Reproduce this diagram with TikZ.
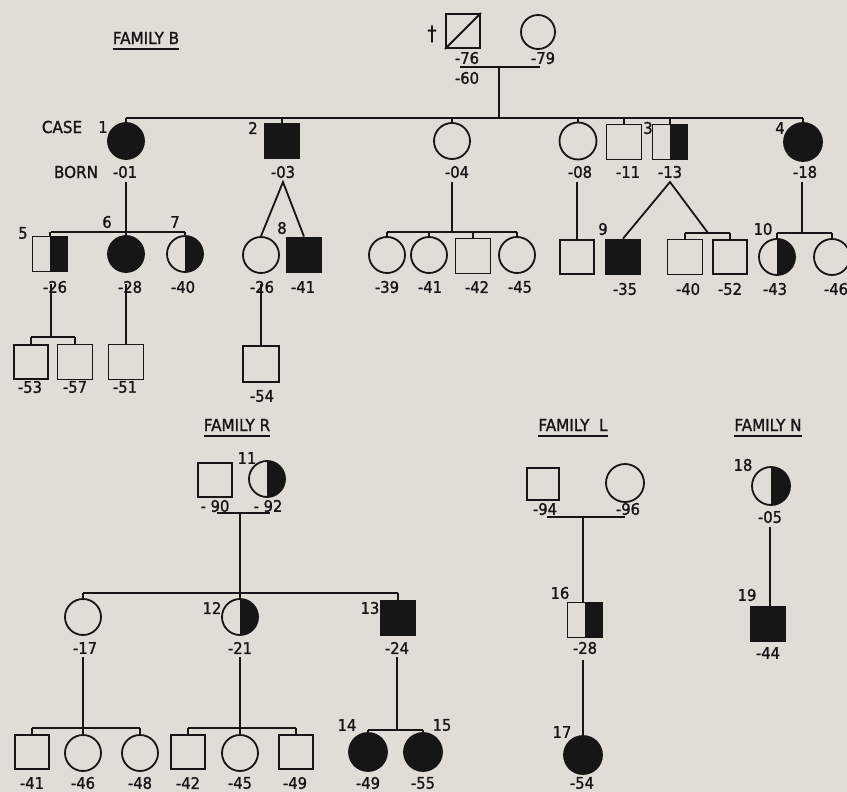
\documentclass[tikz,border=0pt]{standalone}
\usepackage{fontspec}
\setmainfont{DejaVu Sans}[FakeBold=1.3,FakeStretch=0.92]
\definecolor{ink}{RGB}{22,22,22}
\definecolor{paper}{RGB}{223,221,213}
\tikzset{
 sym/.style={draw=ink, line width=1.8pt, inner sep=0pt},
 sq/.style={sym, rectangle, minimum size=34pt},
 ci/.style={sym, circle, minimum size=36pt},
 fullf/.style={fill=ink},
 halfr/.style={path picture={\fill[ink] (path picture bounding box.north) rectangle (path picture bounding box.south east);}},
 lbl/.style={text=ink, inner sep=0pt, font=\fontsize{16}{18}\selectfont},
 ttl/.style={text=ink, inner sep=0pt, font=\fontsize{16.5}{18}\selectfont},
 ln/.style={draw=ink, line width=1.8pt},
 ul/.style={draw=ink, line width=1.5pt},
}
\begin{document}
\begin{tikzpicture}[x=1pt,y=-1pt]
\useasboundingbox (0,0) rectangle (847,792);
\fill[paper] (0,0) rectangle (847,792);

% ---------------- FAMILY B ----------------
\node[ttl] (tB) at (146,38) {FAMILY B};
\draw[ul] ([yshift=-5pt]tB.base west) -- ([yshift=-5pt]tB.base east);

% generation I
\node[sq] (I1) at (463,31) {};
\draw[ln] (I1.south west) -- (I1.north east);
\node[lbl, font=\fontsize{20}{22}\selectfont] (dag) at (432,34) {†};
\node[ci, minimum size=34pt] (I2) at (538,32) {};
\node[lbl] (l76) at (467,58) {-76};
\node[lbl] (l79) at (543,58) {-79};
\node[lbl] (l60) at (467,78) {-60};
\coordinate (mIa) at (460,67);
\coordinate (mIb) at (540,67);
\coordinate (mI) at (499,67);
\coordinate (sI) at (499,118);
\draw[ln] (mIa) -- (mIb);
\draw[ln] (mI) -- (sI);

% generation II
\coordinate (sIIa) at (126,118);
\coordinate (sIIb) at (803,118);
\draw[ln] (sIIa) -- (sIIb);
\node[ci, fullf] (II1) at (126,141) {};
\node[sq, fullf, minimum size=35pt] (II2) at (282,141) {};
\node[ci] (II3) at (452,141) {};
\node[ci, minimum size=37pt] (II4) at (578,141) {};
\node[sq, minimum size=35pt] (II5) at (624,142) {};
\node[sq, halfr, minimum size=35pt] (II6) at (670,142) {};
\node[ci, fullf, minimum size=38pt] (II7) at (803,142) {};
\foreach \n in {II1,II2,II3,II4,II5,II6,II7} \draw[ln] (\n.north |- sIIa) -- (\n.north);

\node[ttl] (case) at (62,127) {CASE};
\node[lbl] (n1) at (103,127) {1};
\node[lbl] (n2) at (253,128) {2};
\node[lbl] (n3) at (648,128) {3};
\node[lbl] (n4) at (780,128) {4};
\node[ttl] (born) at (76,172) {BORN};
\node[lbl] (l01) at (125,172) {-01};
\node[lbl] (l03) at (283,172) {-03};
\node[lbl] (l04) at (457,172) {-04};
\node[lbl] (l08) at (580,172) {-08};
\node[lbl] (l11) at (628,172) {-11};
\node[lbl] (l13) at (670,172) {-13};
\node[lbl] (l18) at (805,172) {-18};

% generation III
\node[sq, halfr, minimum size=35pt] (III1) at (50,254) {};
\node[ci, fullf] (III2) at (126,254) {};
\node[ci, halfr] (III3) at (185,254) {};
\node[ci] (III4) at (261,255) {};
\node[sq, fullf, minimum size=35pt] (III5) at (304,255) {};
\node[ci] (III6) at (387,255) {};
\node[ci] (III7) at (429,255) {};
\node[sq, minimum size=35pt] (III8) at (473,256) {};
\node[ci] (III9) at (517,255) {};
\node[sq] (III10) at (577,257) {};
\node[sq, fullf, minimum size=35pt] (III11) at (623,257) {};
\node[sq, minimum size=35pt] (III12) at (685,257) {};
\node[sq] (III13) at (730,257) {};
\node[ci, halfr] (III14) at (777,257) {};
\node[ci] (III15) at (832,257) {};

\node[lbl] (n5) at (23,233) {5};
\node[lbl] (n6) at (107,222) {6};
\node[lbl] (n7) at (175,222) {7};
\node[lbl] (n8) at (282,228) {8};
\node[lbl] (n9) at (603,229) {9};
\node[lbl] (n10) at (763,229) {10};

\node[lbl] (l26a) at (55,287) {-26};
\node[lbl] (l28) at (130,287) {-28};
\node[lbl] (l40a) at (183,287) {-40};
\node[lbl] (l26b) at (262,287) {-26};
\node[lbl] (l41a) at (303,287) {-41};
\node[lbl] (l39) at (387,287) {-39};
\node[lbl] (l41b) at (430,287) {-41};
\node[lbl] (l42a) at (477,287) {-42};
\node[lbl] (l45a) at (520,287) {-45};
\node[lbl] (l35) at (625,289) {-35};
\node[lbl] (l40b) at (688,289) {-40};
\node[lbl] (l52) at (730,289) {-52};
\node[lbl] (l43) at (775,289) {-43};
\node[lbl] (l46a) at (836,289) {-46};

% descents from generation II
\coordinate (dII1) at (126,182);
\draw[ln] (dII1) -- (III2.north);
\coordinate (sIIIa) at (51,232);
\coordinate (sIIIb) at (185,232);
\draw[ln] (sIIIa) -- (sIIIb);
\draw[ln] (III1.north |- sIIIa) -- (III1.north);
\draw[ln] (III3.north |- sIIIa) -- (III3.north);

\coordinate (tw1) at (283,182);
\draw[ln] (III4.north) -- (tw1) -- (III5.north);

\coordinate (dII3) at (452,182);
\coordinate (sII3) at (452,232);
\draw[ln] (dII3) -- (sII3);
\coordinate (sIIIc) at (387,232);
\coordinate (sIIId) at (517,232);
\draw[ln] (sIIIc) -- (sIIId);
\foreach \n in {III6,III7,III8,III9} \draw[ln] (\n.north |- sIIIc) -- (\n.north);

\coordinate (dII4) at (577,182);
\draw[ln] (dII4) -- (III10.north);

\coordinate (tw2) at (670,182);
\coordinate (tw2b) at (708,233);
\draw[ln] (III11.north) -- (tw2) -- (tw2b);
\coordinate (sIIIe) at (685,233);
\coordinate (sIIIf) at (730,233);
\draw[ln] (sIIIe) -- (sIIIf);
\draw[ln] (III12.north |- sIIIe) -- (III12.north);
\draw[ln] (III13.north |- sIIIe) -- (III13.north);

\coordinate (dII7) at (802,182);
\coordinate (sII7) at (802,233);
\draw[ln] (dII7) -- (sII7);
\coordinate (sIIIg) at (777,233);
\coordinate (sIIIh) at (832,233);
\draw[ln] (sIIIg) -- (sIIIh);
\draw[ln] (III14.north |- sIIIg) -- (III14.north);
\draw[ln] (III15.north |- sIIIg) -- (III15.north);

% generation IV
\node[sq] (IV1) at (31,362) {};
\node[sq, minimum size=35pt] (IV2) at (75,362) {};
\node[sq, minimum size=35pt] (IV3) at (126,362) {};
\node[sq, minimum size=36pt] (IV4) at (261,364) {};
\node[lbl] (l53) at (30,387) {-53};
\node[lbl] (l57) at (75,387) {-57};
\node[lbl] (l51) at (125,387) {-51};
\node[lbl] (l54a) at (262,396) {-54};

\coordinate (dIII1) at (51,284);
\coordinate (sIVa) at (51,337);
\draw[ln] (dIII1) -- (sIVa);
\coordinate (sIVb) at (31,337);
\coordinate (sIVc) at (75,337);
\draw[ln] (sIVb) -- (sIVc);
\draw[ln] (IV1.north |- sIVb) -- (IV1.north);
\draw[ln] (IV2.north |- sIVb) -- (IV2.north);
\coordinate (dIII2) at (126,284);
\draw[ln] (dIII2) -- (IV3.north);
\coordinate (dIII4) at (261,284);
\draw[ln] (dIII4) -- (IV4.north);

% ---------------- FAMILY R ----------------
\node[ttl] (tR) at (237,425) {FAMILY R};
\draw[ul] ([yshift=-5pt]tR.base west) -- ([yshift=-5pt]tR.base east);

\node[sq] (R1) at (215,480) {};
\node[ci, halfr] (R2) at (267,479) {};
\node[lbl] (n11) at (247,458) {11};
\node[lbl] (l90) at (215,506) {- 90};
\node[lbl] (l92) at (268,506) {- 92};
\coordinate (mRa) at (217,513);
\coordinate (mRb) at (270,513);
\coordinate (mR) at (240,513);
\draw[ln] (mRa) -- (mRb);
\coordinate (sRa) at (240,593);
\draw[ln] (mR) -- (sRa);
\coordinate (sRb) at (83,593);
\coordinate (sRc) at (398,593);
\draw[ln] (sRb) -- (sRc);

\node[ci] (R3) at (83,617) {};
\node[ci, halfr] (R4) at (240,617) {};
\node[sq, fullf] (R5) at (398,618) {};
\foreach \n in {R3,R4,R5} \draw[ln] (\n.north |- sRb) -- (\n.north);
\node[lbl] (n12) at (212,608) {12};
\node[lbl] (n13) at (370,608) {13};
\node[lbl] (l17) at (85,648) {-17};
\node[lbl] (l21) at (240,648) {-21};
\node[lbl] (l24) at (397,648) {-24};

\coordinate (dR3) at (83,657);
\coordinate (sR3) at (83,728);
\draw[ln] (dR3) -- (sR3);
\coordinate (dR4) at (240,657);
\coordinate (sR4) at (240,728);
\draw[ln] (dR4) -- (sR4);
\coordinate (dR5) at (397,657);
\coordinate (sR5) at (397,730);
\draw[ln] (dR5) -- (sR5);

\node[sq] (R6) at (32,752) {};
\node[ci] (R7) at (83,753) {};
\node[ci] (R8) at (140,753) {};
\node[sq] (R9) at (188,752) {};
\node[ci] (R10) at (240,753) {};
\node[sq] (R11) at (296,752) {};
\node[ci, fullf, minimum size=38pt] (R12) at (368,752) {};
\node[ci, fullf, minimum size=38pt] (R13) at (423,752) {};

\coordinate (sRd) at (32,728);
\coordinate (sRe) at (140,728);
\draw[ln] (sRd) -- (sRe);
\foreach \n in {R6,R7,R8} \draw[ln] (\n.north |- sRd) -- (\n.north);
\coordinate (sRf) at (188,728);
\coordinate (sRg) at (296,728);
\draw[ln] (sRf) -- (sRg);
\foreach \n in {R9,R10,R11} \draw[ln] (\n.north |- sRf) -- (\n.north);
\coordinate (sRh) at (368,730);
\coordinate (sRi) at (423,730);
\draw[ln] (sRh) -- (sRi);
\foreach \n in {R12,R13} \draw[ln] (\n.north |- sRh) -- (\n.north);

\node[lbl] (n14) at (347,725) {14};
\node[lbl] (n15) at (442,725) {15};
\node[lbl] (l41c) at (32,783) {-41};
\node[lbl] (l46b) at (83,783) {-46};
\node[lbl] (l48) at (140,783) {-48};
\node[lbl] (l42b) at (188,783) {-42};
\node[lbl] (l45b) at (240,783) {-45};
\node[lbl] (l49a) at (295,783) {-49};
\node[lbl] (l49b) at (368,783) {-49};
\node[lbl] (l55) at (423,783) {-55};

% ---------------- FAMILY L ----------------
\node[ttl] (tL) at (573,425) {FAMILY\ \ L};
\draw[ul] ([yshift=-5pt]tL.base west) -- ([yshift=-5pt]tL.base east);
\node[sq, minimum size=32pt] (L1) at (543,484) {};
\node[ci, minimum size=38pt] (L2) at (625,483) {};
\node[lbl] (l94) at (545,509) {-94};
\node[lbl] (l96) at (628,509) {-96};
\coordinate (mLa) at (547,517);
\coordinate (mLb) at (625,517);
\coordinate (mL) at (583,517);
\draw[ln] (mLa) -- (mLb);
\node[sq, halfr, minimum size=35pt] (L3) at (585,620) {};
\draw[ln] (mL) -- (mL |- L3.north);
\node[lbl] (n16) at (560,593) {16};
\node[lbl] (l28b) at (585,648) {-28};
\coordinate (dL3) at (583,660);
\node[ci, fullf, minimum size=38pt] (L4) at (583,755) {};
\draw[ln] (dL3) -- (L4.north);
\node[lbl] (n17) at (562,732) {17};
\node[lbl] (l54b) at (582,783) {-54};

% ---------------- FAMILY N ----------------
\node[ttl] (tN) at (768,425) {FAMILY N};
\draw[ul] ([yshift=-5pt]tN.base west) -- ([yshift=-5pt]tN.base east);
\node[ci, halfr, minimum size=38pt] (N1) at (771,486) {};
\node[lbl] (n18) at (743,465) {18};
\node[lbl] (l05) at (770,517) {-05};
\coordinate (dN1) at (770,527);
\node[sq, fullf, minimum size=35pt] (N2) at (768,624) {};
\draw[ln] (dN1) -- (dN1 |- N2.north);
\node[lbl] (n19) at (747,595) {19};
\node[lbl] (l44) at (768,653) {-44};
\end{tikzpicture}
\end{document}
